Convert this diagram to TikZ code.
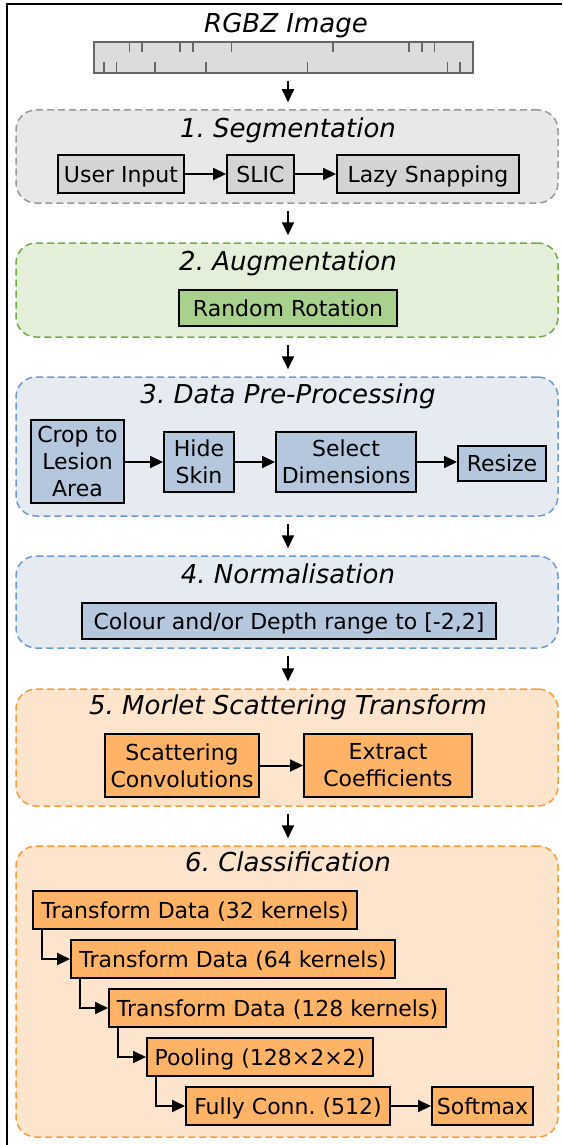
\documentclass[tikz,border=0pt]{standalone}
\usepackage{fontspec}
\setmainfont{DejaVu Sans}
\usetikzlibrary{arrows.meta}
\definecolor{grayfill}{HTML}{D4D4D4}
\definecolor{graygrp}{HTML}{E8E8E8}
\definecolor{graydash}{HTML}{9A9A9A}
\definecolor{greenfill}{HTML}{A9D18E}
\definecolor{greengrp}{HTML}{E3EFD9}
\definecolor{greendash}{HTML}{70AD47}
\definecolor{bluefill}{HTML}{B4C7DC}
\definecolor{bluegrp}{HTML}{E6EBF2}
\definecolor{bluedash}{HTML}{6C9BD2}
\definecolor{orangefill}{HTML}{FFB366}
\definecolor{orangegrp}{HTML}{FDE5CD}
\definecolor{orangedash}{HTML}{F79D3A}
\definecolor{rulerfill}{HTML}{DCDCDC}
\definecolor{rulerdraw}{HTML}{666666}
\newcommand\bodyfnt{\frenchspacing\fontsize{22}{27}\selectfont}
\newcommand\titlefnt{\frenchspacing\fontsize{26}{30}\selectfont\itshape}
\begin{document}
\begin{tikzpicture}[x=1pt,y=-1pt,
  grp/.style={dash pattern=on 7pt off 4pt, line width=1.5pt, rounded corners=20pt, inner sep=0pt},
  box/.style={draw=black, line width=2pt, inner sep=0pt, align=center, font=\bodyfnt},
  sbox/.style={draw=black, line width=2pt, inner sep=0pt, font=\bodyfnt, text height=16pt, text depth=0pt},
  ttl/.style={font=\titlefnt, anchor=base, inner sep=0pt},
  arr/.style={-{Triangle[length=13pt,width=12pt]}, line width=2pt},
  tick/.style={draw=rulerdraw, line width=1.6pt}]
\useasboundingbox (0,0) rectangle (562,1145);
% frame
\draw[line width=2pt] (7,1145) -- (7,4) -- (562,4);

% input image
\node[ttl] (ttl0) at (286,32.5) {RGBZ Image};
\node[draw=rulerdraw, fill=rulerfill, line width=1.6pt, minimum width=379pt, minimum height=31pt, inner sep=0pt] (img) at (283.5,57.5) {};
\foreach \t in {36.3,48.7,87,99.7,138.3,239.7,316,328.7,341.3}
  \draw[tick] ([xshift=\t pt]img.north west) -- ++(0,11);
\foreach \t in {11,23.3,61.7,112.7,214.3,354.3,367}
  \draw[tick] ([xshift=\t pt]img.south west) -- ++(0,-12);

% groups
\node[grp, draw=graydash, fill=graygrp, minimum width=542pt, minimum height=93pt] (g1) at (287,156.5) {};
\node[grp, draw=greendash, fill=greengrp, minimum width=542pt, minimum height=94pt] (g2) at (287,290) {};
\node[grp, draw=bluedash, fill=bluegrp, minimum width=542pt, minimum height=139pt] (g3) at (287,446.5) {};
\node[grp, draw=bluedash, fill=bluegrp, minimum width=542pt, minimum height=92pt] (g4) at (287,602) {};
\node[grp, draw=orangedash, fill=orangegrp, minimum width=542pt, minimum height=117pt] (g5) at (287,747.5) {};
\node[grp, draw=orangedash, fill=orangegrp, minimum width=542pt, minimum height=291pt] (g6) at (287,991.5) {};

% titles
\node[ttl] (t1) at (288,137) {1. Segmentation};
\node[ttl] (t2) at (288,270.5) {2. Augmentation};
\node[ttl] (t3) at (288,403.5) {3. Data Pre-Processing};
\node[ttl] (t4) at (288,583.5) {4. Normalisation};
\node[ttl] (t5) at (288,714.5) {5. Morlet Scattering Transform};
\node[ttl] (t6) at (288,871.5) {6. Classification};

% arrows between stages
\draw[arr] ([xshift=1pt,yshift=-7pt]img.south -| g1.north) -- ([xshift=1pt,yshift=7pt]g1.north);
\draw[arr] ([xshift=1pt,yshift=-7pt]g1.south) -- ([xshift=1pt,yshift=7pt]g2.north);
\draw[arr] ([xshift=1pt,yshift=-7pt]g2.south) -- ([xshift=1pt,yshift=7pt]g3.north);
\draw[arr] ([xshift=1pt,yshift=-7pt]g3.south) -- ([xshift=1pt,yshift=7pt]g4.north);
\draw[arr] ([xshift=1pt,yshift=-7pt]g4.south) -- ([xshift=1pt,yshift=7pt]g5.north);
\draw[arr] ([xshift=1pt,yshift=-7pt]g5.south) -- ([xshift=1pt,yshift=7pt]g6.north);

% 1. segmentation
\node[sbox, fill=grayfill, minimum width=126pt, minimum height=38pt] (ui) at (121,174) {User Input};
\node[sbox, fill=grayfill, minimum width=67pt, minimum height=38pt] (slic) at (260.5,174) {SLIC};
\node[sbox, fill=grayfill, minimum width=182pt, minimum height=38pt] (lazy) at (428,174) {Lazy Snapping};
\draw[arr] (ui) -- (slic);
\draw[arr] (slic) -- (lazy);

% 2. augmentation
\node[sbox, fill=greenfill, minimum width=218pt, minimum height=36pt] (rot) at (288,308) {Random Rotation};

% 3. pre-processing
\node[box, fill=bluefill, minimum width=93pt, minimum height=83pt] (crop) at (77.5,461.5) {Crop to\\Lesion\\Area};
\node[box, fill=bluefill, minimum width=70pt, minimum height=60pt] (hide) at (199,462) {Hide\\Skin};
\node[box, fill=bluefill, minimum width=140pt, minimum height=60pt] (sel) at (346,462) {Select\\Dimensions};
\node[sbox, fill=bluefill, minimum width=88pt, minimum height=35pt] (res) at (502,463) {Resize};
\draw[arr] (crop.east |- hide) -- (hide);
\draw[arr] (hide) -- (sel);
\draw[arr] (sel.east) -- (sel.east -| res.west);

% 4. normalisation
\node[sbox, fill=bluefill, minimum width=414pt, minimum height=36pt] (norm) at (289,621) {Colour and/or Depth range to [-2,2]};

% 5. scattering
\node[box, fill=orangefill, minimum width=154pt, minimum height=63pt] (sc) at (182,765.5) {Scattering\\Convolutions};
\node[box, fill=orangefill, minimum width=168pt, minimum height=63pt] (ec) at (388,765.5) {Extract\\Coefficients};
\draw[arr] (sc) -- (ec);

% 6. classification
\node[sbox, fill=orangefill, minimum width=324pt, minimum height=38pt] (td1) at (195,910) {Transform Data (32 kernels)};
\node[sbox, fill=orangefill, minimum width=324pt, minimum height=38pt] (td2) at (233,959) {Transform Data (64 kernels)};
\node[sbox, fill=orangefill, minimum width=337pt, minimum height=38pt] (td3) at (277.5,1008) {Transform Data (128 kernels)};
\node[sbox, fill=orangefill, minimum width=226pt, minimum height=38pt] (pool) at (260,1057) {Pooling (128×2×2)};
\node[sbox, fill=orangefill, minimum width=204pt, minimum height=38pt] (fc) at (288,1106) {Fully Conn. (512)};
\node[sbox, fill=orangefill, minimum width=101pt, minimum height=38pt] (soft) at (482.5,1106) {Softmax};
\draw[arr] ([xshift=10pt]td1.south west) |- (td2.west);
\draw[arr] ([xshift=10pt]td2.south west) |- (td3.west);
\draw[arr] ([xshift=10pt]td3.south west) |- (pool.west);
\draw[arr] ([xshift=10pt]pool.south west) |- (fc.west);
\draw[arr] (fc) -- (soft);
\end{tikzpicture}
\end{document}
